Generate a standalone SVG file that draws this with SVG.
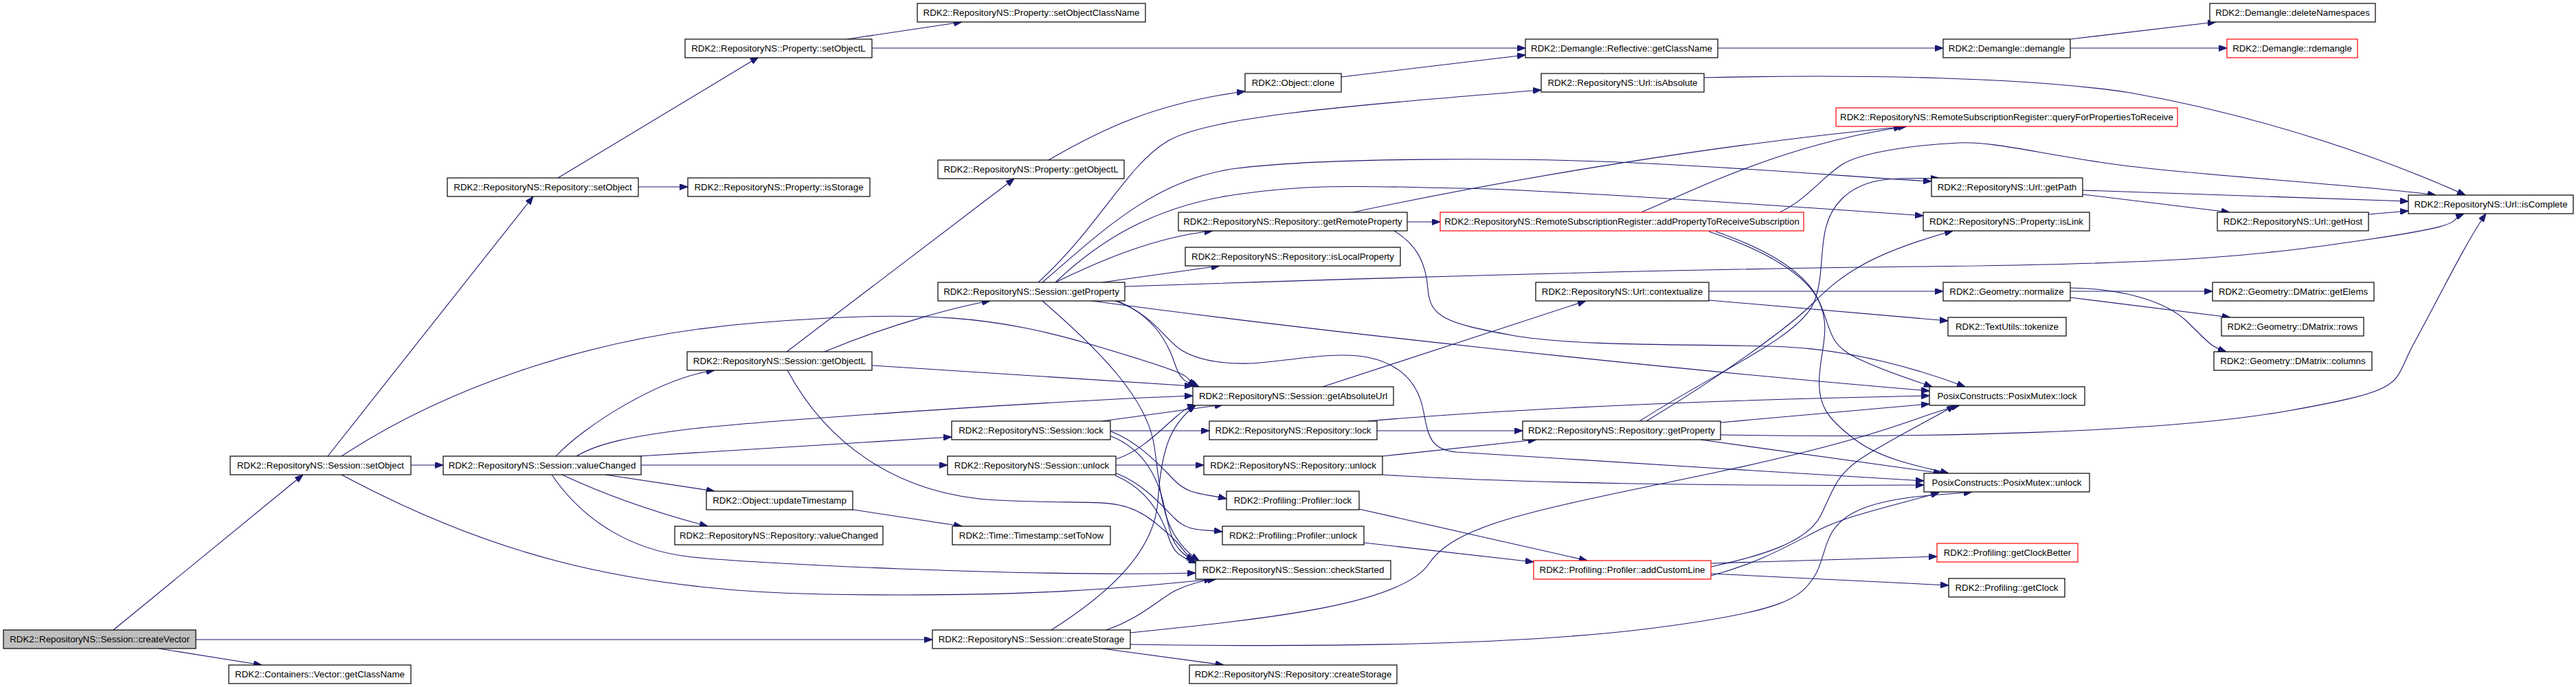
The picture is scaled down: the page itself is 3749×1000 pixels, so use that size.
<svg xmlns="http://www.w3.org/2000/svg" width="3749" height="1000" viewBox="0 0 3749 1000">
<style>
.n rect{fill:#ffffff;stroke:#000000;stroke-width:1.2}
.n.red rect{stroke:#ff0000}
.n.root rect{fill:#bfbfbf}
.n text{font-family:"Liberation Sans",Arial,sans-serif;font-size:13.3px;text-anchor:middle;fill:#000000}
.e path{fill:none;stroke:#191970;stroke-width:1.1;marker-end:url(#ah)}
</style>
<defs>
<marker id="ah" markerWidth="12" markerHeight="9" refX="12" refY="4.5" orient="auto" markerUnits="userSpaceOnUse">
<path d="M0,0 L12,4.5 L0,9 z" fill="#191970" stroke="#191970" stroke-width="1"/>
</marker>
</defs>
<rect width="3749" height="1000" fill="#ffffff"/>
<g id="edges" class="e">
<path d="M165,917 L441,691"/>
<path d="M231,944 L381,968"/>
<path d="M285,931 L1357,931"/>
<path d="M477,664 L776,286"/>
<path d="M598,677 L645,677"/>
<path d="M497,664 C640,570 850,490 1100,470 S1450,460 1600,505 S1720,545 1740,563"/>
<path d="M497,691 C700,800 900,860 1200,865 S1650,855 1765,843"/>
<path d="M809,664 C850,620 960,550 1040,539"/>
<path d="M839,664 C870,645 920,635 1000,625 S1500,585 1736,576"/>
<path d="M930,664 L1385,636"/>
<path d="M933,677 L1379,677"/>
<path d="M881,691 L1040,715"/>
<path d="M818,691 C880,720 950,745 1030,766"/>
<path d="M803,691 C850,760 920,800 1000,810 S1500,840 1740,834"/>
<path d="M1145,512 L1476,260"/>
<path d="M1200,512 C1300,470 1400,445 1441,438"/>
<path d="M1269,532 L1736,562"/>
<path d="M1146,539 C1200,640 1300,720 1450,728 S1630,720 1680,760 S1720,805 1738,816"/>
<path d="M1536,411 C1600,380 1680,345 1765,336"/>
<path d="M1604,411 L1775,387"/>
<path d="M1511,411 C1600,330 1640,240 1700,205 C1760,170 1950,155 2243,131"/>
<path d="M1517,411 C1600,340 1680,260 1800,245 S2200,228 2400,238 S2700,258 2811,264"/>
<path d="M1536,411 C1600,350 1680,300 1800,283 S2000,272 2127,274 S2600,300 2799,314"/>
<path d="M1637,417 C1900,408 2400,392 2800,388 S3300,370 3450,348 S3560,322 3586,311"/>
<path d="M1589,438 C1900,480 2400,535 2808,569"/>
<path d="M1626,438 C1680,460 1700,500 1710,530 S1730,555 1745,563"/>
<path d="M1517,438 C1600,510 1670,580 1680,650 S1690,780 1745,816"/>
<path d="M1623,438 C1680,458 1695,495 1720,510 S1780,530 1820,529 S1940,510 1990,520 S2065,560 2072,600 S2085,655 2120,658 S2600,688 2800,700"/>
<path d="M1604,613 L1780,589"/>
<path d="M1616,627 L1760,627"/>
<path d="M1617,628 C1660,645 1690,680 1710,700 S1750,718 1785,726"/>
<path d="M1617,635 C1660,652 1685,690 1695,740 S1710,800 1740,818"/>
<path d="M1625,668 C1660,657 1690,625 1710,608 S1730,592 1740,589"/>
<path d="M1624,677 L1752,677"/>
<path d="M1625,689 C1665,705 1690,735 1710,755 S1750,770 1779,774"/>
<path d="M1623,692 C1670,712 1690,750 1700,780 S1720,810 1742,820"/>
<path d="M1236,741 L1400,766"/>
<path d="M1530,917 C1620,860 1680,800 1685,730 S1700,620 1740,590"/>
<path d="M1610,917 C1660,900 1690,870 1710,860 S1750,845 1770,843"/>
<path d="M1645,921 C1850,900 2040,880 2080,820 S2250,740 2500,687 S2790,605 2852,590"/>
<path d="M1645,938 C1900,942 2200,940 2400,915 S2620,870 2640,840 S2650,770 2700,745 S2840,720 2870,716"/>
<path d="M1604,944 L1781,968"/>
<path d="M1925,563 L2308,438"/>
<path d="M2004,627 L2216,627"/>
<path d="M1990,613 C2200,595 2500,582 2808,576"/>
<path d="M2012,664 L2236,640"/>
<path d="M2012,691 C2200,703 2500,708 2800,706"/>
<path d="M1978,741 L2310,816"/>
<path d="M1985,790 L2232,818"/>
<path d="M2386,613 C2500,540 2620,490 2640,440 S2640,330 2680,290 S2780,262 2822,259"/>
<path d="M2396,613 C2500,550 2600,480 2640,440 S2720,370 2842,336"/>
<path d="M2504,615 L2808,588"/>
<path d="M2504,633 C2800,638 3150,630 3330,598 S3480,560 3513,500 S3590,350 3618,311"/>
<path d="M2475,640 L2826,689"/>
<path d="M2389,309 C2480,270 2600,210 2768,185"/>
<path d="M2590,309 C2630,290 2650,260 2680,240 S2800,210 2850,208 S2950,220 3062,237 S3450,270 3545,284"/>
<path d="M2487,337 C2570,365 2630,400 2648,440 S2660,500 2700,520 S2790,555 2812,563"/>
<path d="M2497,337 C2580,366 2630,400 2647,438 S2652,500 2648,545 S2660,610 2700,640 S2800,680 2836,689"/>
<path d="M2048,323 L2096,323"/>
<path d="M1969,309 C2200,260 2500,210 2775,184"/>
<path d="M2029,336 C2060,355 2075,380 2078,420 S2100,470 2200,488 S2500,500 2600,505 S2800,540 2860,563"/>
<path d="M1526,233 C1600,190 1680,150 1812,133"/>
<path d="M1952,112 L2220,80"/>
<path d="M1269,70 L2220,70"/>
<path d="M1233,57 L1400,32"/>
<path d="M812,259 L1104,83"/>
<path d="M929,272 L1001,272"/>
<path d="M2500,70 L2828,70"/>
<path d="M2480,113 C2700,108 2950,112 3100,135 C3300,170 3480,235 3588,284"/>
<path d="M3013,57 L3225,32"/>
<path d="M3013,70 L3241,70"/>
<path d="M3031,277 L3505,293"/>
<path d="M3031,283 L3245,309"/>
<path d="M3447,312 L3505,307"/>
<path d="M2487,424 L2828,424"/>
<path d="M2487,437 L2835,467"/>
<path d="M3013,424 L3220,424"/>
<path d="M3013,433 L3246,462"/>
<path d="M3013,419 C3080,420 3150,435 3185,470 S3220,505 3240,512"/>
<path d="M2490,820 L2819,810"/>
<path d="M2490,835 L2836,852"/>
<path d="M2490,825 C2560,810 2630,790 2650,750 S2670,690 2720,660 S2820,605 2845,590"/>
<path d="M2490,838 C2560,820 2610,790 2650,770 S2760,735 2822,717"/>
</g>
<g id="n0" class="n root"><rect x="5" y="917" width="280" height="27"/><text x="145" y="935">RDK2::RepositoryNS::Session::createVector</text></g>
<g id="n1" class="n"><rect x="333" y="968" width="265" height="27"/><text x="465.5" y="986">RDK2::Containers::Vector::getClassName</text></g>
<g id="n2" class="n"><rect x="335" y="664" width="263" height="27"/><text x="466.5" y="682">RDK2::RepositoryNS::Session::setObject</text></g>
<g id="n3" class="n"><rect x="651" y="259" width="278" height="27"/><text x="790" y="277">RDK2::RepositoryNS::Repository::setObject</text></g>
<g id="n4" class="n"><rect x="645" y="664" width="288" height="27"/><text x="789" y="682">RDK2::RepositoryNS::Session::valueChanged</text></g>
<g id="n5" class="n"><rect x="1357" y="917" width="288" height="27"/><text x="1501" y="935">RDK2::RepositoryNS::Session::createStorage</text></g>
<g id="n6" class="n"><rect x="997" y="57" width="272" height="27"/><text x="1133" y="75">RDK2::RepositoryNS::Property::setObjectL</text></g>
<g id="n7" class="n"><rect x="1001" y="259" width="265" height="27"/><text x="1133.5" y="277">RDK2::RepositoryNS::Property::isStorage</text></g>
<g id="n8" class="n"><rect x="1000" y="512" width="269" height="27"/><text x="1134.5" y="530">RDK2::RepositoryNS::Session::getObjectL</text></g>
<g id="n9" class="n"><rect x="1365" y="411" width="272" height="27"/><text x="1501" y="429">RDK2::RepositoryNS::Session::getProperty</text></g>
<g id="n10" class="n"><rect x="1365" y="233" width="271" height="27"/><text x="1500.5" y="251">RDK2::RepositoryNS::Property::getObjectL</text></g>
<g id="n11" class="n"><rect x="1385" y="613" width="231" height="27"/><text x="1500.5" y="631">RDK2::RepositoryNS::Session::lock</text></g>
<g id="n12" class="n"><rect x="1379" y="664" width="245" height="27"/><text x="1501.5" y="682">RDK2::RepositoryNS::Session::unlock</text></g>
<g id="n13" class="n"><rect x="1028" y="715" width="213" height="27"/><text x="1134.5" y="733">RDK2::Object::updateTimestamp</text></g>
<g id="n14" class="n"><rect x="982" y="766" width="303" height="27"/><text x="1133.5" y="784">RDK2::RepositoryNS::Repository::valueChanged</text></g>
<g id="n15" class="n"><rect x="1386" y="766" width="230" height="27"/><text x="1501" y="784">RDK2::Time::Timestamp::setToNow</text></g>
<g id="n16" class="n"><rect x="1335" y="5" width="332" height="27"/><text x="1501" y="23">RDK2::RepositoryNS::Property::setObjectClassName</text></g>
<g id="n17" class="n"><rect x="1812" y="107" width="140" height="27"/><text x="1882" y="125">RDK2::Object::clone</text></g>
<g id="n18" class="n"><rect x="1715" y="309" width="333" height="27"/><text x="1881.5" y="327">RDK2::RepositoryNS::Repository::getRemoteProperty</text></g>
<g id="n19" class="n"><rect x="1725" y="360" width="313" height="27"/><text x="1881.5" y="378">RDK2::RepositoryNS::Repository::isLocalProperty</text></g>
<g id="n20" class="n"><rect x="1736" y="563" width="292" height="27"/><text x="1882" y="581">RDK2::RepositoryNS::Session::getAbsoluteUrl</text></g>
<g id="n21" class="n"><rect x="1760" y="613" width="244" height="27"/><text x="1882" y="631">RDK2::RepositoryNS::Repository::lock</text></g>
<g id="n22" class="n"><rect x="1752" y="664" width="260" height="27"/><text x="1882" y="682">RDK2::RepositoryNS::Repository::unlock</text></g>
<g id="n23" class="n"><rect x="1785" y="715" width="193" height="27"/><text x="1881.5" y="733">RDK2::Profiling::Profiler::lock</text></g>
<g id="n24" class="n"><rect x="1779" y="766" width="206" height="27"/><text x="1882" y="784">RDK2::Profiling::Profiler::unlock</text></g>
<g id="n25" class="n"><rect x="1740" y="816" width="284" height="27"/><text x="1882" y="834">RDK2::RepositoryNS::Session::checkStarted</text></g>
<g id="n26" class="n"><rect x="1731" y="968" width="302" height="27"/><text x="1882" y="986">RDK2::RepositoryNS::Repository::createStorage</text></g>
<g id="n27" class="n"><rect x="2220" y="57" width="280" height="27"/><text x="2360" y="75">RDK2::Demangle::Reflective::getClassName</text></g>
<g id="n28" class="n"><rect x="2243" y="107" width="237" height="27"/><text x="2361.5" y="125">RDK2::RepositoryNS::Url::isAbsolute</text></g>
<g id="n29" class="n red"><rect x="2096" y="309" width="529" height="27"/><text x="2360.5" y="327">RDK2::RepositoryNS::RemoteSubscriptionRegister::addPropertyToReceiveSubscription</text></g>
<g id="n30" class="n"><rect x="2235" y="411" width="252" height="27"/><text x="2361" y="429">RDK2::RepositoryNS::Url::contextualize</text></g>
<g id="n31" class="n"><rect x="2216" y="613" width="288" height="27"/><text x="2360" y="631">RDK2::RepositoryNS::Repository::getProperty</text></g>
<g id="n32" class="n red"><rect x="2232" y="816" width="258" height="27"/><text x="2361" y="834">RDK2::Profiling::Profiler::addCustomLine</text></g>
<g id="n33" class="n red"><rect x="2672" y="157" width="497" height="27"/><text x="2920.5" y="175">RDK2::RepositoryNS::RemoteSubscriptionRegister::queryForPropertiesToReceive</text></g>
<g id="n34" class="n"><rect x="2828" y="57" width="185" height="27"/><text x="2920.5" y="75">RDK2::Demangle::demangle</text></g>
<g id="n35" class="n"><rect x="2811" y="259" width="220" height="27"/><text x="2921" y="277">RDK2::RepositoryNS::Url::getPath</text></g>
<g id="n36" class="n"><rect x="2799" y="309" width="242" height="27"/><text x="2920" y="327">RDK2::RepositoryNS::Property::isLink</text></g>
<g id="n37" class="n"><rect x="2828" y="411" width="185" height="27"/><text x="2920.5" y="429">RDK2::Geometry::normalize</text></g>
<g id="n38" class="n"><rect x="2835" y="462" width="172" height="27"/><text x="2921" y="480">RDK2::TextUtils::tokenize</text></g>
<g id="n39" class="n"><rect x="2808" y="563" width="226" height="27"/><text x="2921" y="581">PosixConstructs::PosixMutex::lock</text></g>
<g id="n40" class="n"><rect x="2800" y="689" width="241" height="27"/><text x="2920.5" y="707">PosixConstructs::PosixMutex::unlock</text></g>
<g id="n41" class="n red"><rect x="2819" y="791" width="205" height="27"/><text x="2921.5" y="809">RDK2::Profiling::getClockBetter</text></g>
<g id="n42" class="n"><rect x="2836" y="842" width="169" height="27"/><text x="2920.5" y="860">RDK2::Profiling::getClock</text></g>
<g id="n43" class="n"><rect x="3216" y="5" width="241" height="27"/><text x="3336.5" y="23">RDK2::Demangle::deleteNamespaces</text></g>
<g id="n44" class="n red"><rect x="3241" y="57" width="190" height="27"/><text x="3336" y="75">RDK2::Demangle::rdemangle</text></g>
<g id="n45" class="n"><rect x="3227" y="309" width="220" height="27"/><text x="3337" y="327">RDK2::RepositoryNS::Url::getHost</text></g>
<g id="n46" class="n"><rect x="3220" y="411" width="235" height="27"/><text x="3337.5" y="429">RDK2::Geometry::DMatrix::getElems</text></g>
<g id="n47" class="n"><rect x="3233" y="462" width="207" height="27"/><text x="3336.5" y="480">RDK2::Geometry::DMatrix::rows</text></g>
<g id="n48" class="n"><rect x="3222" y="512" width="230" height="27"/><text x="3337" y="530">RDK2::Geometry::DMatrix::columns</text></g>
<g id="n49" class="n"><rect x="3505" y="284" width="240" height="27"/><text x="3625" y="302">RDK2::RepositoryNS::Url::isComplete</text></g>
</svg>
